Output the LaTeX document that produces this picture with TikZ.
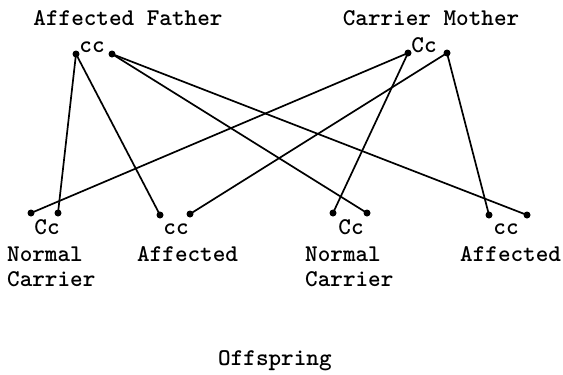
\documentclass[tikz,border=0pt]{standalone}
\usepackage{fontspec}
\begin{document}
\begin{tikzpicture}[x=1pt,y=-1pt,
  dot/.style={circle,fill=black,inner sep=0pt,minimum size=7pt},
  lbl/.style={font=\ttfamily\bfseries\fontsize{24}{24}\selectfont,inner sep=0pt},
  link/.style={line width=1.7pt,black}]
\useasboundingbox (0,0) rectangle (563,375);
% parents
\node[lbl,anchor=base] (fl) at (128,25) {Affected Father};
\node[lbl,anchor=base] (ml) at (431,25) {Carrier Mother};
\node[lbl,anchor=base] (fg) at (92,52) {cc};
\node[lbl,anchor=base] (mg) at (424,52) {Cc};
\node[dot] (f1) at (76,54) {};
\node[dot] (f2) at (112,54) {};
\node[dot] (m1) at (408,53) {};
\node[dot] (m2) at (447,53) {};
% offspring dots
\node[dot] (o1a) at (31,213) {};
\node[dot] (o1b) at (58,213) {};
\node[dot] (o2a) at (160,215) {};
\node[dot] (o2b) at (190,214) {};
\node[dot] (o3a) at (333,213) {};
\node[dot] (o3b) at (367,213) {};
\node[dot] (o4a) at (489,215) {};
\node[dot] (o4b) at (527,215) {};
% offspring labels
\node[lbl,anchor=base] (g1) at (47,234) {Cc};
\node[lbl,anchor=base] (g2) at (176,234) {cc};
\node[lbl,anchor=base] (g3) at (351,234) {Cc};
\node[lbl,anchor=base] (g4) at (506,234) {cc};
\node[lbl,anchor=base west] (p1a) at (7,261) {Normal};
\node[lbl,anchor=base west] (p1b) at (7,286) {Carrier};
\node[lbl,anchor=base west] (p2) at (137,261) {Affected};
\node[lbl,anchor=base west] (p3a) at (305,261) {Normal};
\node[lbl,anchor=base west] (p3b) at (305,286) {Carrier};
\node[lbl,anchor=base west] (p4) at (460,261) {Affected};
\node[lbl,anchor=base west] (off) at (218,365) {Offspring};
% connectors
\draw[link] (f1.center) -- (o1b.center);
\draw[link] (f1.center) -- (o2a.center);
\draw[link] (f2.center) -- (o3b.center);
\draw[link] (f2.center) -- (o4b.center);
\draw[link] (m1.center) -- (o1a.center);
\draw[link] (m1.center) -- (o3a.center);
\draw[link] (m2.center) -- (o2b.center);
\draw[link] (m2.center) -- (o4a.center);
\end{tikzpicture}
\end{document}
